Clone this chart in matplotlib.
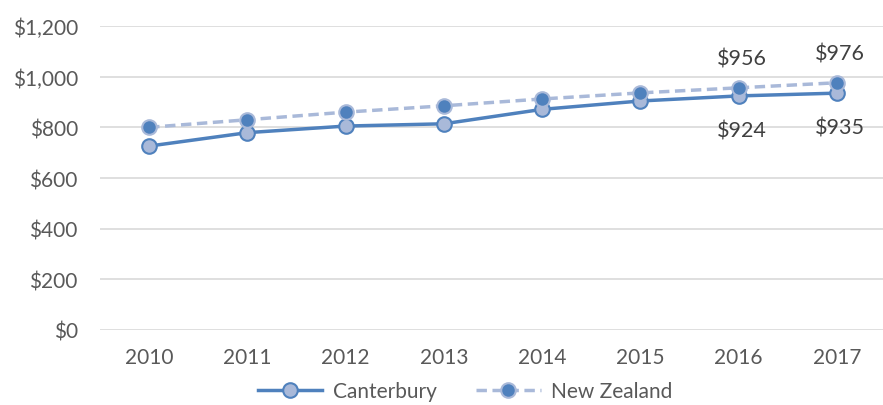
import matplotlib
matplotlib.use("Agg")
import matplotlib.pyplot as plt
from matplotlib.ticker import FuncFormatter

years = ["2010", "2011", "2012", "2013", "2014", "2015", "2016", "2017"]
canterbury = [726, 779, 805, 814, 871, 904, 924, 935]
new_zealand = [800, 830, 860, 885, 912, 936, 956, 976]

plt.rcParams['font.family'] = ['Lato', 'DejaVu Sans']
txt = '#595959'
dark = '#4F81BD'
light = '#A9B9D9'

fig = plt.figure(figsize=(8.83, 4.06), dpi=100)
ax = fig.add_axes([100 / 883, 75 / 406, 786 / 883, 304 / 406])

x = range(len(years))
ax.plot(x, canterbury, color=dark, lw=2.5, marker='o', ms=10.5,
        mfc=light, mec=dark, mew=1.5, label='Canterbury', zorder=3)
ax.plot(x, new_zealand, color=light, lw=2.5, ls=(0, (3, 1.6)), marker='o', ms=10.5,
        mfc=dark, mec=light, mew=1.5, label='New Zealand', zorder=4)

# data labels on the last two years only
for i in (6, 7):
    ax.annotate(f"${new_zealand[i]}", (i, new_zealand[i]), xytext=(2, 21),
                textcoords='offset points', ha='center', va='center',
                fontsize=15.5, color='#404040')
    ax.annotate(f"${canterbury[i]}", (i, canterbury[i]), xytext=(2, -25),
                textcoords='offset points', ha='center', va='center',
                fontsize=15.5, color='#404040')

ax.set_ylim(0, 1200)
ax.set_yticks(range(0, 1201, 200))
ax.yaxis.set_major_formatter(FuncFormatter(lambda v, p: f"${v:,.0f}"))
ax.set_xlim(-0.5, 7.5)
ax.set_xticks(list(x))
ax.set_xticklabels(years)
ax.grid(axis='y', color='#D9D9D9', lw=1.2)
ax.set_axisbelow(True)
for s in ax.spines.values():
    s.set_visible(False)
ax.tick_params(length=0, labelsize=15, colors=txt)
ax.tick_params(axis='y', pad=16)
ax.tick_params(axis='x', pad=12)

leg = fig.legend(loc='center', bbox_to_anchor=(465 / 883, 14 / 406), ncol=2,
                 frameon=False, fontsize=15, handlelength=3.1,
                 columnspacing=1.9, handletextpad=0.5)
for t in leg.get_texts():
    t.set_color(txt)

fig.savefig("out.png", dpi=100)
